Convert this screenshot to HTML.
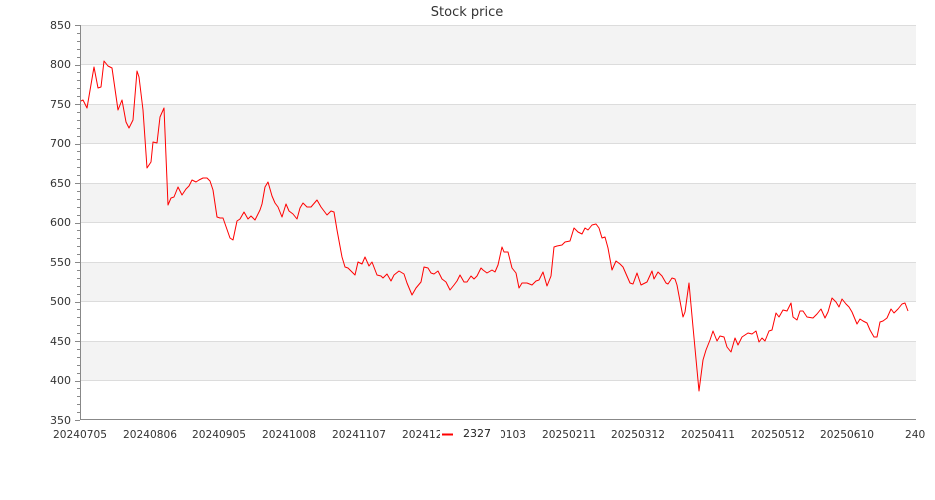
<!DOCTYPE html>
<html><head><meta charset="utf-8"><style>
html,body{margin:0;padding:0;background:#fff;}
svg{display:block;font-family:"DejaVu Sans","Liberation Sans",sans-serif;}
</style></head><body>
<svg width="935" height="500" viewBox="0 0 935 500">
<rect x="80" y="25" width="836" height="39.5" fill="#f3f3f3"/>
<rect x="80" y="104" width="836" height="39.5" fill="#f3f3f3"/>
<rect x="80" y="183" width="836" height="39.5" fill="#f3f3f3"/>
<rect x="80" y="262" width="836" height="39.5" fill="#f3f3f3"/>
<rect x="80" y="341" width="836" height="39.5" fill="#f3f3f3"/>
<g stroke="#dcdcdc" stroke-width="1">
<line x1="80" x2="916" y1="25.5" y2="25.5"/><line x1="80" x2="916" y1="64.5" y2="64.5"/><line x1="80" x2="916" y1="104.5" y2="104.5"/><line x1="80" x2="916" y1="143.5" y2="143.5"/><line x1="80" x2="916" y1="183.5" y2="183.5"/><line x1="80" x2="916" y1="222.5" y2="222.5"/><line x1="80" x2="916" y1="262.5" y2="262.5"/><line x1="80" x2="916" y1="301.5" y2="301.5"/><line x1="80" x2="916" y1="341.5" y2="341.5"/><line x1="80" x2="916" y1="380.5" y2="380.5"/>
</g>
<g stroke="#888" stroke-width="1">
<line x1="80.5" x2="80.5" y1="25" y2="420"/>
<line x1="80" x2="916" y1="419.5" y2="419.5"/>
</g>
<g id="ticks" stroke="#888" stroke-width="1"></g>
<g font-size="11" fill="#333" text-anchor="end">
<text x="71" y="29">850</text><text x="71" y="68">800</text><text x="71" y="108">750</text><text x="71" y="147">700</text><text x="71" y="187">650</text><text x="71" y="226">600</text><text x="71" y="266">550</text><text x="71" y="305">500</text><text x="71" y="345">450</text><text x="71" y="384">400</text><text x="71" y="424">350</text>
</g>
<g font-size="10.6" fill="#333" text-anchor="middle">
<text x="80" y="438">20240705</text><text x="150" y="438">20240806</text><text x="219" y="438">20240905</text><text x="289" y="438">20241008</text><text x="359" y="438">20241107</text><text x="429" y="438">20241209</text><text x="499" y="438">20250103</text><text x="569" y="438">20250211</text><text x="638" y="438">20250312</text><text x="708" y="438">20250411</text><text x="778" y="438">20250512</text><text x="847" y="438">20250610</text><text x="905" y="438" text-anchor="start">240</text>
</g>
<text x="467" y="16" font-size="13" fill="#333" text-anchor="middle">Stock price</text>
<rect x="440" y="425" width="61" height="17" fill="#fff"/>
<line x1="442" x2="453" y1="434.5" y2="434.5" stroke="#ff0000" stroke-width="2"/>
<text x="463" y="437" font-size="11" fill="#222">2327</text>
<polyline fill="none" stroke="#ff0000" stroke-width="1" stroke-linejoin="round" points="81,101 83,100 87,108 94,67 98,88 101,87 104,61 108,66 112,68 118,110 122,100 126,122 129,128 133,120 137,71 139,77 143,110 147,168 151,162 153,142 157,143 160,117 164,108 168,205 171,198 174,197 178,187 182,195 186,189 189,186 192,180 196,182 199,180 203,178 207,178 210,181 213,190 217,217 220,218 223,218 230,238 233,240 237,221 240,219 244,212 248,219 251,216 255,220 260,210 262,204 265,187 268,182 272,196 275,203 278,207 282,217 286,204 289,211 293,214 297,219 300,208 303,203 307,207 311,207 317,200 321,207 327,215 331,211 334,212 337,230 342,257 345,267 348,268 355,275 358,262 362,264 365,257 369,266 372,262 377,275 381,276 383,278 387,274 391,281 394,275 399,271 404,274 407,283 412,295 416,288 421,282 424,267 428,268 431,273 434,274 438,271 442,279 446,282 450,290 454,285 457,281 460,275 464,282 467,282 471,276 474,279 477,276 481,268 483,270 487,273 492,270 495,272 498,265 502,247 504,252 508,252 512,268 516,273 519,288 522,283 527,283 532,285 536,281 539,280 543,272 547,286 551,276 554,247 557,246 562,245 565,242 570,241 574,228 578,232 582,234 585,228 588,230 592,225 596,224 599,228 602,238 605,237 608,248 612,270 616,261 620,264 623,267 630,283 633,284 637,273 641,285 647,282 652,271 654,279 658,272 662,276 666,283 668,284 672,278 675,279 677,285 683,317 685,312 689,283 693,327 699,391 703,360 706,350 710,340 713,331 717,341 720,336 724,337 727,347 731,352 735,338 738,345 742,337 745,335 748,333 752,334 756,331 759,342 762,338 765,341 769,331 772,330 776,313 779,317 783,310 787,311 791,303 793,317 797,320 800,311 803,311 807,317 813,318 817,314 821,309 825,318 828,312 832,298 836,302 839,307 842,299 846,304 849,307 852,312 857,324 860,319 863,321 867,323 870,330 874,337 877,337 880,322 883,321 887,318 891,309 894,313 898,309 902,304 905,303 908,311"/>
</svg>
<script>
var g=document.getElementById('ticks'),s='';
for(var i=0;i<=50;i++){var y=25+i*7.9;var l=(i%5==0)?5:3;s+='<line x1="'+(80-l)+'" x2="80" y1="'+(Math.round(y)+0.5)+'" y2="'+(Math.round(y)+0.5)+'"/>';}
g.innerHTML=s;
</script>
</body></html>
